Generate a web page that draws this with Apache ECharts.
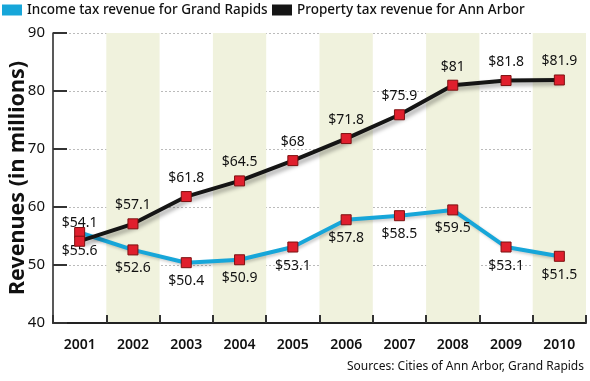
<!DOCTYPE html>
<html><head><meta charset="utf-8">
<script src="https://cdn.jsdelivr.net/npm/echarts@6/dist/echarts.min.js"></script>
<style>html,body{margin:0;padding:0;background:#fff}#c{width:590px;height:381px}</style>
</head><body><div id="c"></div>
<script>
var years = ['2001','2002','2003','2004','2005','2006','2007','2008','2009','2010'];
var incomeGR = [55.6, 52.6, 50.4, 50.9, 53.1, 57.8, 58.5, 59.5, 53.1, 51.5];
var propertyAA = [54.1, 57.1, 61.8, 64.5, 68, 71.8, 75.9, 81, 81.8, 81.9];
var yTicks = [40, 50, 60, 70, 80, 90];
var seriesNames = ['Income tax revenue for Grand Rapids', 'Property tax revenue for Ann Arbor'];
var sourceText = 'Sources: Cities of Ann Arbor, Grand Rapids';
var yTitle = 'Revenues (in millions)';

var FONT = 'Noto Sans';
var BLUE = '#17a6d9', BLACK = '#151515';
var chart = echarts.init(document.getElementById('c'));
var marker = {color: '#e01f2d', borderColor: '#7d1111', borderWidth: 1};
var legendText = {fontSize: 13.5, color: '#111', fontFamily: FONT, fontWeight: 500};
chart.setOption({
  animation: false,
  textStyle: {fontFamily: FONT},
  legend: [
    {data: [{name: seriesNames[0], itemStyle: {color: BLUE, borderWidth: 0}}], left: 0, top: 1, itemWidth: 20, itemHeight: 11, itemGap: 4,
     textStyle: legendText, icon: 'rect', padding: 2},
    {data: [{name: seriesNames[1], itemStyle: {color: BLACK, borderWidth: 0}}], left: 270, top: 1, itemWidth: 20, itemHeight: 11, itemGap: 4,
     textStyle: legendText, icon: 'rect', padding: 2}
  ],
  grid: {left: 53, right: 4, top: 33, bottom: 58, containLabel: false, outerBoundsMode: 'none'},
  xAxis: {
    type: 'category', data: years, boundaryGap: true,
    axisLine: {lineStyle: {color: '#222', width: 2}},
    axisTick: {show: true, inside: true, length: 8, lineStyle: {color: '#333', width: 2}},
    axisLabel: {fontSize: 14, color: '#111', fontWeight: 600, margin: 15, fontFamily: FONT},
    splitArea: {show: true, areaStyle: {color: ['rgba(255,255,255,0)', '#f0f2dd']}},
    splitLine: {show: false}
  },
  yAxis: {
    type: 'value', min: yTicks[0], max: yTicks[yTicks.length-1], interval: 10,
    name: yTitle, nameLocation: 'middle', nameGap: 24, nameMoveOverlap: false,
    nameTextStyle: {fontSize: 21.5, fontWeight: 'bold', color: '#111', fontFamily: FONT},
    axisLine: {show: true, lineStyle: {color: '#222', width: 1.5}},
    axisTick: {show: true, inside: true, length: 14, lineStyle: {color: '#333', width: 2}},
    axisLabel: {fontSize: 15, color: '#111', margin: 8, fontFamily: FONT},
    splitLine: {show: true, lineStyle: {color: '#bbb', type: [2, 2], width: 1}}
  },
  series: [
    {name: seriesNames[0], type: 'line', data: incomeGR, color: BLUE,
     lineStyle: {width: 4, color: BLUE, shadowColor: 'rgba(0,0,0,0.2)', shadowBlur: 3, shadowOffsetX: 2, shadowOffsetY: 2},
     symbol: 'rect', symbolSize: 10, itemStyle: marker,
     label: {show: true, position: 'bottom', distance: 6, fontSize: 14, color: '#111', fontFamily: FONT,
       formatter: function(p){return '$' + p.value;}}, z: 3},
    {name: seriesNames[1], type: 'line', data: propertyAA, color: BLACK,
     lineStyle: {width: 4, color: BLACK, shadowColor: 'rgba(0,0,0,0.35)', shadowBlur: 4, shadowOffsetX: 3, shadowOffsetY: 3},
     symbol: 'rect', symbolSize: 10, itemStyle: marker,
     label: {show: true, position: 'top', distance: 6, fontSize: 14, color: '#111', fontFamily: FONT,
       formatter: function(p){return '$' + p.value;}}, z: 4}
  ],
  graphic: [
    {type: 'text', right: 6, top: 361, style: {text: sourceText, fontSize: 12, fill: '#111', fontFamily: FONT}}
  ]
});
</script></body></html>
